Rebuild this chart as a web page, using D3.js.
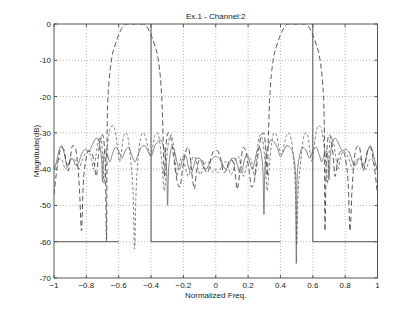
<!DOCTYPE html>
<html>
<head>
<meta charset="utf-8">
<script src="https://cdn.jsdelivr.net/npm/d3@7"></script>
<style>
  body { margin: 0; background: #fff; }
  svg { display: block; font-family: "Liberation Sans", Arial, sans-serif; }
  .tick-label { font-size: 8px; fill: #222; }
  .title, .axis-title { font-size: 8px; fill: #222; }
  .grid { stroke: #999; stroke-width: 0.7; stroke-dasharray: 1,2; fill: none; }
  .box { stroke: #555; stroke-width: 1; fill: none; }
  .tick { stroke: #555; stroke-width: 1; }
  .spec { stroke: #555; stroke-width: 1; fill: none; }
  .ch2 { stroke: #444; stroke-width: 0.9; stroke-dasharray: 5,3; fill: none; }
  .other { stroke: #666; stroke-width: 0.8; stroke-dasharray: 3,2; fill: none; }
  .solid { stroke: #666; stroke-width: 0.8; fill: none; }
</style>
</head>
<body>
<script>
// consts
const
  width = 417,
  height = 313,
  plotLeft = 54,
  plotRight = 377.5,
  plotTop = 24,
  plotBottom = 278,
  tickLen = 3

// data
const xTicks = [-1, -0.8, -0.6, -0.4, -0.2, 0, 0.2, 0.4, 0.6, 0.8, 1]
const yTicks = [0, -10, -20, -30, -40, -50, -60, -70]

// spec mask: stopband floor and band edges
const specFloor = -60
const specFloorSegs = [[-1, -0.6], [-0.4, 0.4], [0.6, 1]]
const specEdges = [-0.4, 0.6]

// channel 2 response (dashed, passbands at +-0.5)
const ch2 = [
  [-1,-47],[-0.985,-41],[-0.97,-36.5],[-0.955,-34],[-0.94,-34.5],[-0.925,-38],[-0.912,-40.5],
  [-0.9,-37],[-0.885,-33.5],[-0.87,-34],[-0.855,-38],[-0.842,-46],[-0.83,-57],[-0.82,-45],
  [-0.805,-38],[-0.785,-35],[-0.765,-35.5],[-0.75,-39],[-0.738,-42],[-0.725,-36],[-0.71,-31],
  [-0.7,-30.5],[-0.69,-33],[-0.682,-40],[-0.675,-60],[-0.672,-32],[-0.668,-22],[-0.66,-16],
  [-0.645,-10],[-0.62,-5.5],[-0.6,-3],[-0.575,-0.8],[-0.55,0],[-0.45,0],[-0.425,-0.8],
  [-0.4,-3],[-0.38,-5.5],[-0.355,-10],[-0.34,-16],[-0.332,-22],[-0.325,-32],[-0.318,-42],
  [-0.31,-35],[-0.295,-30],[-0.28,-31],[-0.265,-35],[-0.25,-40],[-0.235,-44],[-0.222,-45],
  [-0.205,-40],[-0.185,-35],[-0.17,-34],[-0.155,-38],[-0.14,-44],[-0.132,-45.5],[-0.12,-41],
  [-0.1,-37.5],[-0.085,-37.5],[-0.068,-40],[-0.05,-41],[-0.03,-37],[-0.012,-35],[0,-34.8],
  [0.012,-35],[0.03,-37],[0.05,-41],[0.068,-40],[0.085,-37.5],[0.1,-37.5],[0.12,-41],
  [0.132,-45.5],[0.14,-44],[0.155,-38],[0.17,-34],[0.185,-35],[0.205,-40],[0.222,-45],
  [0.235,-44],[0.25,-40],[0.265,-35],[0.28,-31],[0.295,-30],[0.31,-35],[0.318,-42],
  [0.325,-32],[0.332,-22],[0.34,-16],[0.355,-10],[0.38,-5.5],[0.4,-3],[0.425,-0.8],
  [0.45,0],[0.55,0],[0.575,-0.8],[0.6,-3],[0.62,-5.5],[0.645,-10],[0.66,-16],[0.668,-22],
  [0.672,-32],[0.675,-57],[0.682,-40],[0.69,-33],[0.7,-30.5],[0.71,-31],[0.725,-36],
  [0.738,-42],[0.75,-39],[0.765,-35.5],[0.785,-35],[0.805,-38],[0.82,-45],[0.83,-57],
  [0.842,-46],[0.855,-38],[0.87,-34],[0.885,-33.5],[0.9,-37],[0.912,-40.5],[0.925,-38],
  [0.94,-34.5],[0.955,-34],[0.97,-36.5],[0.985,-41],[1,-47]
]

// neighbouring channel response (short dashes)
const other = [
  [-1,-40],[-0.98,-38.5],[-0.96,-37],[-0.945,-38],[-0.93,-40],[-0.915,-39],[-0.9,-37.5],
  [-0.88,-37],[-0.86,-38.5],[-0.845,-40],[-0.83,-38],[-0.81,-36],[-0.79,-35],[-0.77,-37],
  [-0.755,-40],[-0.74,-36],[-0.725,-32],[-0.71,-31],[-0.7,-36],[-0.69,-44],[-0.68,-38],
  [-0.665,-32],[-0.65,-28.5],[-0.635,-28],[-0.62,-30],[-0.605,-35],[-0.595,-38],[-0.585,-36],
  [-0.57,-31],[-0.555,-30],[-0.54,-32],[-0.525,-38],[-0.51,-48],[-0.502,-62],[-0.494,-48],
  [-0.48,-37],[-0.465,-31.5],[-0.45,-30],[-0.435,-31],[-0.42,-34],[-0.405,-36],[-0.39,-34],
  [-0.375,-30.5],[-0.36,-30],[-0.345,-33],[-0.33,-40],[-0.318,-46],[-0.305,-38],[-0.29,-32],
  [-0.275,-30.5],[-0.262,-33],[-0.25,-38],[-0.24,-42],[-0.23,-40],[-0.215,-37],[-0.2,-37.5],
  [-0.185,-40],[-0.17,-42],[-0.155,-39],[-0.14,-36.5],[-0.125,-37],[-0.11,-40],[-0.095,-41.5],
  [-0.08,-40],[-0.06,-38],[-0.045,-38],[-0.03,-40],[-0.015,-41],[0,-40],[0.015,-41],
  [0.03,-40],[0.045,-38],[0.06,-38],[0.08,-40],[0.095,-41.5],[0.11,-40],[0.125,-37],
  [0.14,-36.5],[0.155,-39],[0.17,-42],[0.185,-40],[0.2,-37.5],[0.215,-37],[0.23,-40],
  [0.24,-42],[0.25,-38],[0.262,-33],[0.275,-30.5],[0.29,-32],[0.305,-38],[0.318,-46],
  [0.33,-40],[0.345,-33],[0.36,-30],[0.375,-30.5],[0.39,-34],[0.405,-36],[0.42,-34],
  [0.435,-31],[0.45,-30],[0.465,-31.5],[0.48,-37],[0.494,-48],[0.5,-61],[0.508,-48],
  [0.525,-38],[0.54,-32],[0.555,-30],[0.57,-31],[0.585,-36],[0.595,-38],[0.605,-35],
  [0.62,-30],[0.635,-28],[0.65,-28.5],[0.665,-32],[0.68,-38],[0.69,-44],[0.7,-36],
  [0.71,-31],[0.725,-32],[0.74,-36],[0.755,-40],[0.77,-37],[0.79,-35],[0.81,-36],
  [0.83,-38],[0.845,-40],[0.86,-38.5],[0.88,-37],[0.9,-37.5],[0.915,-39],[0.93,-40],
  [0.945,-38],[0.96,-37],[0.98,-38.5],[1,-40]
]

// third channel response (solid)
const third = [
  [-1,-40],[-0.985,-38],[-0.97,-35],[-0.955,-33.5],[-0.94,-35],[-0.925,-38],[-0.91,-39],
  [-0.895,-37],[-0.88,-37.5],[-0.865,-39],[-0.85,-38.5],[-0.835,-36.5],[-0.82,-35],[-0.8,-34.5],
  [-0.785,-35],[-0.77,-34],[-0.755,-32.5],[-0.74,-31.5],[-0.725,-32],[-0.712,-35],[-0.705,-38],
  [-0.7,-43.5],[-0.695,-38],[-0.685,-35],[-0.67,-36],[-0.655,-38],[-0.64,-36],[-0.62,-34],
  [-0.6,-35],[-0.58,-37],[-0.56,-35],[-0.54,-34],[-0.52,-36],[-0.5,-38],[-0.48,-36],
  [-0.46,-34],[-0.44,-33.5],[-0.42,-35],[-0.4,-36.5],[-0.38,-34],[-0.36,-32.5],[-0.34,-32],
  [-0.325,-33.5],[-0.31,-37],[-0.302,-42],[-0.298,-50],[-0.293,-42],[-0.285,-37],[-0.27,-34],
  [-0.255,-35],[-0.24,-38],[-0.225,-40],[-0.21,-38],[-0.195,-36],[-0.18,-37],[-0.165,-40],
  [-0.15,-41],[-0.135,-39],[-0.12,-37],[-0.1,-37],[-0.08,-39],[-0.06,-40],[-0.04,-38.5],
  [-0.02,-37],[0,-36.5],[0.02,-37],[0.04,-38.5],[0.06,-40],[0.08,-39],[0.1,-37],
  [0.12,-37],[0.135,-39],[0.15,-41],[0.165,-40],[0.18,-37],[0.195,-36],[0.21,-38],
  [0.225,-40],[0.24,-38],[0.255,-35],[0.27,-34],[0.285,-37],[0.293,-42],[0.298,-52.5],
  [0.302,-42],[0.31,-37],[0.325,-33.5],[0.34,-32],[0.36,-32.5],[0.38,-34],[0.4,-36.5],
  [0.42,-35],[0.44,-33.5],[0.46,-34],[0.48,-36],[0.494,-42],[0.498,-66],[0.503,-42],
  [0.52,-36],[0.54,-34],[0.56,-35],[0.58,-37],[0.6,-35],[0.62,-34],[0.64,-36],[0.655,-38],
  [0.67,-36],[0.685,-35],[0.695,-38],[0.7,-43],[0.705,-38],[0.712,-35],[0.725,-32],
  [0.74,-31.5],[0.755,-32.5],[0.77,-34],[0.785,-35],[0.8,-34.5],[0.82,-35],[0.835,-36.5],
  [0.85,-38.5],[0.865,-39],[0.88,-37.5],[0.895,-37],[0.91,-39],[0.925,-38],[0.94,-35],
  [0.955,-33.5],[0.97,-35],[0.985,-38],[1,-40]
]

// scales
const x = d3.scaleLinear().domain([-1, 1]).range([plotLeft, plotRight])
const y = d3.scaleLinear().domain([-70, 0]).range([plotBottom, plotTop])

const svg = d3.select('body')
  .append('svg')
  .attr('width', width)
  .attr('height', height)

svg.append('rect')
  .attr('width', width)
  .attr('height', height)
  .attr('fill', '#fff')

svg.append('defs')
  .append('clipPath')
  .attr('id', 'plot-clip')
  .append('rect')
  .attr('x', plotLeft)
  .attr('y', plotTop)
  .attr('width', plotRight - plotLeft)
  .attr('height', plotBottom - plotTop)

// grid
svg.append('g')
  .selectAll('line')
  .data(xTicks.slice(1, -1))
  .enter()
  .append('line')
  .attr('class', 'grid')
  .attr('x1', d => x(d)).attr('x2', d => x(d))
  .attr('y1', plotTop).attr('y2', plotBottom)

svg.append('g')
  .selectAll('line')
  .data(yTicks.slice(1, -1))
  .enter()
  .append('line')
  .attr('class', 'grid')
  .attr('x1', plotLeft).attr('x2', plotRight)
  .attr('y1', d => y(d)).attr('y2', d => y(d))

// curves
const line = d3.line()
  .x(d => x(d[0]))
  .y(d => y(d[1]))
  .curve(d3.curveMonotoneX)

let curves = svg.append('g').attr('clip-path', 'url(#plot-clip)')

curves.append('path').datum(third).attr('class', 'solid').attr('d', line)
curves.append('path').datum(other).attr('class', 'other').attr('d', line)
curves.append('path').datum(ch2).attr('class', 'ch2').attr('d', line)

// spec mask
curves.selectAll('.spec-floor')
  .data(specFloorSegs)
  .enter()
  .append('line')
  .attr('class', 'spec spec-floor')
  .attr('x1', d => x(d[0])).attr('x2', d => x(d[1]))
  .attr('y1', y(specFloor)).attr('y2', y(specFloor))

curves.selectAll('.spec-edge')
  .data(specEdges)
  .enter()
  .append('line')
  .attr('class', 'spec spec-edge')
  .attr('x1', d => x(d)).attr('x2', d => x(d))
  .attr('y1', y(0)).attr('y2', y(specFloor))

// box + inward ticks
svg.append('rect')
  .attr('class', 'box')
  .attr('x', plotLeft).attr('y', plotTop)
  .attr('width', plotRight - plotLeft).attr('height', plotBottom - plotTop)

let ticks = svg.append('g')
xTicks.forEach(t => {
  ticks.append('line').attr('class', 'tick')
    .attr('x1', x(t)).attr('x2', x(t)).attr('y1', plotBottom).attr('y2', plotBottom - tickLen)
  ticks.append('line').attr('class', 'tick')
    .attr('x1', x(t)).attr('x2', x(t)).attr('y1', plotTop).attr('y2', plotTop + tickLen)
})
yTicks.forEach(t => {
  ticks.append('line').attr('class', 'tick')
    .attr('x1', plotLeft).attr('x2', plotLeft + tickLen).attr('y1', y(t)).attr('y2', y(t))
  ticks.append('line').attr('class', 'tick')
    .attr('x1', plotRight).attr('x2', plotRight - tickLen).attr('y1', y(t)).attr('y2', y(t))
})

// tick labels
svg.append('g')
  .selectAll('text')
  .data(xTicks)
  .enter()
  .append('text')
  .attr('class', 'tick-label')
  .attr('x', d => x(d))
  .attr('y', plotBottom + 10)
  .attr('text-anchor', 'middle')
  .text(d => d3.format('')(d))

svg.append('g')
  .selectAll('text')
  .data(yTicks)
  .enter()
  .append('text')
  .attr('class', 'tick-label')
  .attr('x', plotLeft - 3)
  .attr('y', d => y(d) + 3)
  .attr('text-anchor', 'end')
  .text(d => d)

// titles
svg.append('text')
  .attr('class', 'title')
  .attr('x', (plotLeft + plotRight) / 2)
  .attr('y', 18.5)
  .attr('text-anchor', 'middle')
  .text('Ex.1 - Channel:2')

svg.append('text')
  .attr('class', 'axis-title')
  .attr('x', (plotLeft + plotRight) / 2)
  .attr('y', 297.5)
  .attr('text-anchor', 'middle')
  .text('Normalized Freq.')

svg.append('text')
  .attr('class', 'axis-title')
  .attr('transform', 'translate(' + [38.5, (plotTop + plotBottom) / 2] + ') rotate(-90)')
  .attr('text-anchor', 'middle')
  .text('Magnitude(dB)')
</script>
</body>
</html>
